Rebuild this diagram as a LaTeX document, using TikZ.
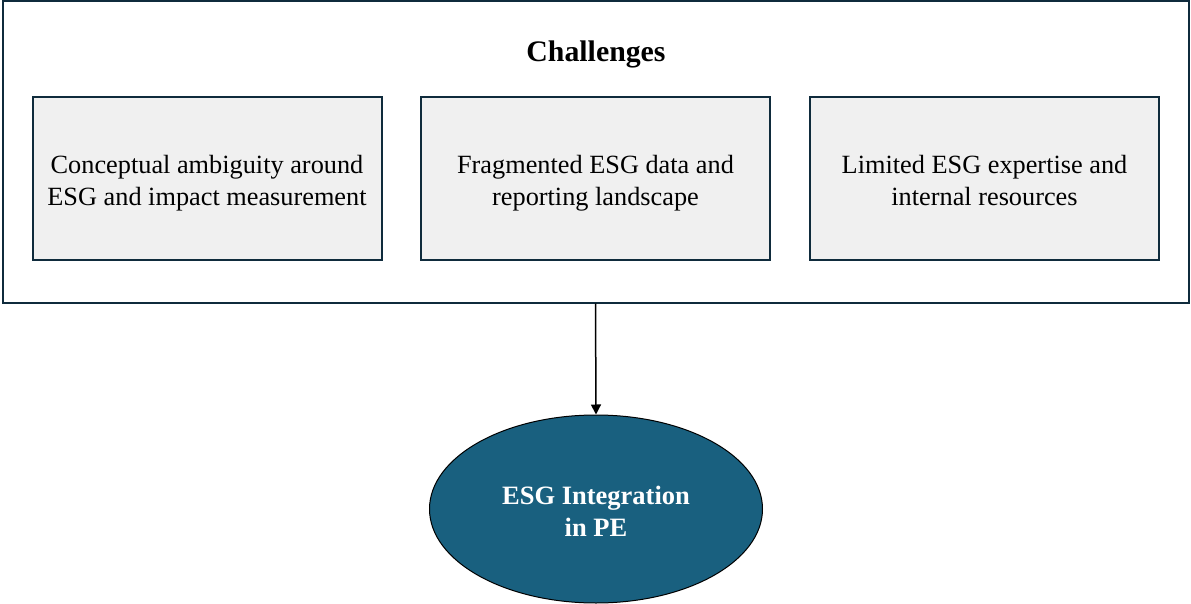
\documentclass[tikz,border=0pt]{standalone}
\usepackage{fontspec}
\setmainfont{Liberation Serif}
\usetikzlibrary{shapes.geometric,arrows.meta}
\definecolor{navy}{HTML}{0F2B3C}
\definecolor{teal}{HTML}{19607F}
\definecolor{boxfill}{HTML}{F0F0F0}
% \lowered puts extra room above the first line, so the text sits a bit below centre
\newcommand{\lowered}{\rule{0pt}{32.4pt}}
\tikzset{
  challenge/.style={draw=navy, line width=2pt, fill=boxfill, minimum width=349pt,
    minimum height=162pt, align=center, font=\fontsize{26.3}{32}\selectfont, inner sep=0pt},
  frame/.style={draw=navy, line width=2pt},
  goal/.style={ellipse, draw=black, line width=1pt, fill=teal, minimum width=333pt,
    minimum height=188pt, align=center, text=white,
    font=\fontsize{26.5}{32}\selectfont\bfseries, inner sep=0pt},
  link/.style={draw=black, line width=1.5pt, -{Triangle[length=10pt,width=10pt]}}
}
\begin{document}
\begin{tikzpicture}[x=1pt,y=-1pt]
\useasboundingbox (0,0) rectangle (1191,604);
\node[frame, minimum width=1186pt, minimum height=301pt, inner sep=0pt] (outer) at (595.5,152) {};
\node[font=\fontsize{29.8}{34}\selectfont\bfseries] (title) at (596,54.5) {Challenges};
\node[challenge] (c1) at (207,178.5) {\lowered Conceptual ambiguity around\\\strut ESG and impact measurement};
\node[challenge] (c2) at (595.5,178.5) {\lowered Fragmented ESG data and\\\strut reporting landscape};
\node[challenge] (c3) at (984.5,178.5) {\lowered Limited ESG expertise and\\\strut internal resources};
\node[goal] (goal) at (596,509) {\lowered ESG Integration\\\strut in PE};
\draw[link] (outer.south) -- (goal.north);
\end{tikzpicture}
\end{document}
